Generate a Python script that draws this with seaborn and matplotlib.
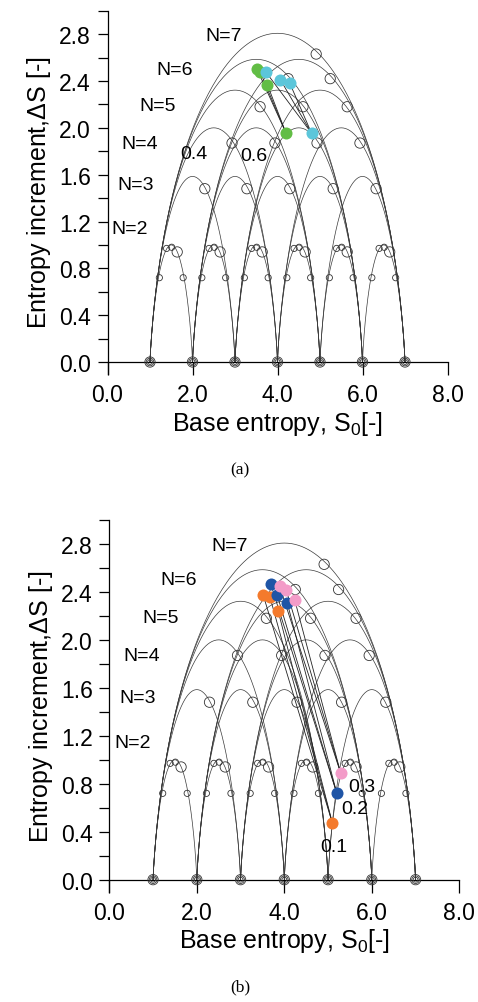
import numpy as np
import pandas as pd
import matplotlib.pyplot as plt
import seaborn as sns
from matplotlib.ticker import MultipleLocator, FormatStrFormatter

# --- arc family (number of states N, arcs run over S0 in [1, 7]) ---
arc_N = [2, 3, 4, 5, 6, 7]
s0_min, s0_max = 1, 7

# open circles (same in both panels)
big_x = {2: [1.64, 2.65, 3.64, 4.65, 5.64, 6.64],
         3: [2.29, 3.28, 4.29, 5.31, 6.32],
         4: [2.93, 3.94, 4.93, 5.94],
         5: [3.59, 4.60, 5.64],
         6: [4.25, 5.24],
         7: [4.91]}
big_y = {2: 0.94, 3: 1.48, 4: 1.87, 5: 2.18, 6: 2.42, 7: 2.63}
small_off = [0.22, 0.39, 0.51, 0.78]   # small circles on the N=2 arcs
small_y = [0.72, 0.97, 0.98, 0.72]
base_x = [1, 2, 3, 4, 5, 6, 7]

# label positions for N=...
n_lab_x = [0.53, 0.65, 0.75, 1.17, 1.59, 2.74]
n_lab_y = [1.14, 1.52, 1.87, 2.19, 2.50, 2.79]

# panel (a) coloured points: upper cluster + lower point per series
a_names = ['0.4', '0.6']
a_colors = ['#62bd45', '#5cc6da']
a_top_x = [[3.52, 3.59, 3.76], [3.72, 4.07, 4.29]]
a_top_y = [[2.50, 2.48, 2.37], [2.48, 2.41, 2.38]]
a_low_x = [4.20, 4.80]
a_low_y = [1.955, 1.955]
a_lab_x = [2.04, 3.45]
a_lab_y = [1.78, 1.76]

# panel (b)
b_names = ['0.1', '0.2', '0.3']
b_colors = ['#f47a2c', '#1f55a6', '#f39bc8']
b_top_x = [[3.52, 3.67, 3.86], [3.69, 3.84, 4.07], [3.89, 4.04, 4.24]]
b_top_y = [[2.37, 2.36, 2.24], [2.466, 2.37, 2.305], [2.45, 2.42, 2.33]]
b_low_x = [5.10, 5.20, 5.29]
b_low_y = [0.47, 0.72, 0.887]
b_lab_x = [5.14, 5.62, 5.77]
b_lab_y = [0.28, 0.59, 0.78]


def maxent_arc(n):
    # maximum-entropy curve over n equally spaced states
    lam = np.linspace(-40, 40, 4001)
    idx = np.arange(n)
    logits = lam[:, None] * idx[None, :]
    logits -= logits.max(axis=1, keepdims=True)
    p = np.exp(logits)
    p /= p.sum(axis=1, keepdims=True)
    mean = (p * idx).sum(axis=1)
    with np.errstate(divide='ignore', invalid='ignore'):
        h = -np.nansum(np.where(p > 0, p * np.log2(p), 0.0), axis=1)
    return mean, h


rows = []
for n in arc_N:
    m, h = maxent_arc(n)
    for s in range(s0_min, s0_max - n + 2):
        for xi, yi in zip(m + s, h):
            rows.append((f'{n}_{s}', xi, yi))
arcs = pd.DataFrame(rows, columns=['arc', 'S0', 'dS'])

sns.set_theme(style='ticks')
plt.rcParams['font.family'] = ['Liberation Sans', 'DejaVu Sans']
plt.rcParams['mathtext.fontset'] = 'custom'
plt.rcParams['mathtext.rm'] = 'Liberation Sans'
plt.rcParams['mathtext.it'] = 'Liberation Sans'
for k in ['text.color', 'axes.labelcolor', 'xtick.color', 'ytick.color',
          'axes.edgecolor']:
    plt.rcParams[k] = 'black'

fig = plt.figure(figsize=(4.78, 10.03), dpi=100)
ax_a = fig.add_axes([0.2249, 0.6264, 0.7113, 0.3619])
ax_b = fig.add_axes([0.2287, 0.1100, 0.7322, 0.3706])


def draw_panel(ax, names, colors, top_x, top_y, low_x, low_y, lab_x, lab_y):
    sns.lineplot(data=arcs, x='S0', y='dS', units='arc', estimator=None,
                 sort=False, color='#3a3a3a', lw=0.5, ax=ax)
    # open circles
    bx = [x for n in arc_N for x in big_x[n]]
    by = [big_y[n] for n in arc_N for _ in big_x[n]]
    sns.scatterplot(x=bx, y=by, marker='o', s=55, facecolors='none',
                    edgecolor='#333333', linewidth=0.6, ax=ax)
    sx = [b + o for b in base_x[:-1] for o in small_off]
    sy = [y for _ in base_x[:-1] for y in small_y]
    sns.scatterplot(x=sx, y=sy, marker='o', s=20, facecolors='none',
                    edgecolor='#333333', linewidth=0.6, ax=ax)
    for sz in [12, 30, 55]:
        sns.scatterplot(x=base_x, y=[0] * len(base_x), marker='o', s=sz,
                        facecolors='none', edgecolor='#333333',
                        linewidth=0.6, ax=ax, zorder=3)
    # connecting lines and coloured points
    for i in range(len(names)):
        for tx, ty in zip(top_x[i], top_y[i]):
            ax.plot([tx, low_x[i]], [ty, low_y[i]], color='#222222', lw=0.6)
    for i in range(len(names)):
        sns.scatterplot(x=top_x[i] + [low_x[i]], y=top_y[i] + [low_y[i]],
                        color=colors[i], s=75, linewidth=0, ax=ax, zorder=5)
        ax.text(lab_x[i], lab_y[i], names[i], fontsize=14,
                ha='center', va='center')
    for n, tx, ty in zip(arc_N, n_lab_x, n_lab_y):
        ax.text(tx, ty, f'N={n}', fontsize=14, ha='center', va='center')

    ax.set_xlim(0, 8)
    ax.set_ylim(-0.1, 3.0)
    ax.spines['bottom'].set_position(('data', 0))
    ax.spines['top'].set_visible(False)
    ax.spines['right'].set_visible(False)
    for sp in ['left', 'bottom']:
        ax.spines[sp].set_linewidth(0.9)
        ax.spines[sp].set_color('black')
    ax.xaxis.set_major_locator(MultipleLocator(2))
    ax.yaxis.set_major_locator(MultipleLocator(0.4))
    ax.yaxis.set_minor_locator(MultipleLocator(0.2))
    ax.xaxis.set_major_formatter(FormatStrFormatter('%.1f'))
    ax.yaxis.set_major_formatter(FormatStrFormatter('%.1f'))
    ax.set_yticks(np.arange(0, 2.81, 0.4))
    ax.tick_params(axis='x', which='major', length=9, width=0.9, pad=6,
                   labelsize=16.5, color='black')
    ax.tick_params(axis='y', which='both', length=7, width=0.9, pad=5,
                   labelsize=16.5, color='black')
    ax.set_xlabel(r'Base entropy, S$_\mathrm{0}$[-]', fontsize=18, labelpad=2)
    ax.set_ylabel(r'Entropy increment,$\Delta$S [-]', fontsize=18, labelpad=4)


draw_panel(ax_a, a_names, a_colors, a_top_x, a_top_y, a_low_x, a_low_y,
           a_lab_x, a_lab_y)
draw_panel(ax_b, b_names, b_colors, b_top_x, b_top_y, b_low_x, b_low_y,
           b_lab_x, b_lab_y)

fig.text(0.502, 0.531, '(a)', fontsize=12.5, family='Liberation Serif',
         ha='center', va='center')
fig.text(0.502, 0.016, '(b)', fontsize=12.5, family='Liberation Serif',
         ha='center', va='center')

fig.savefig('out.png', dpi=100)
